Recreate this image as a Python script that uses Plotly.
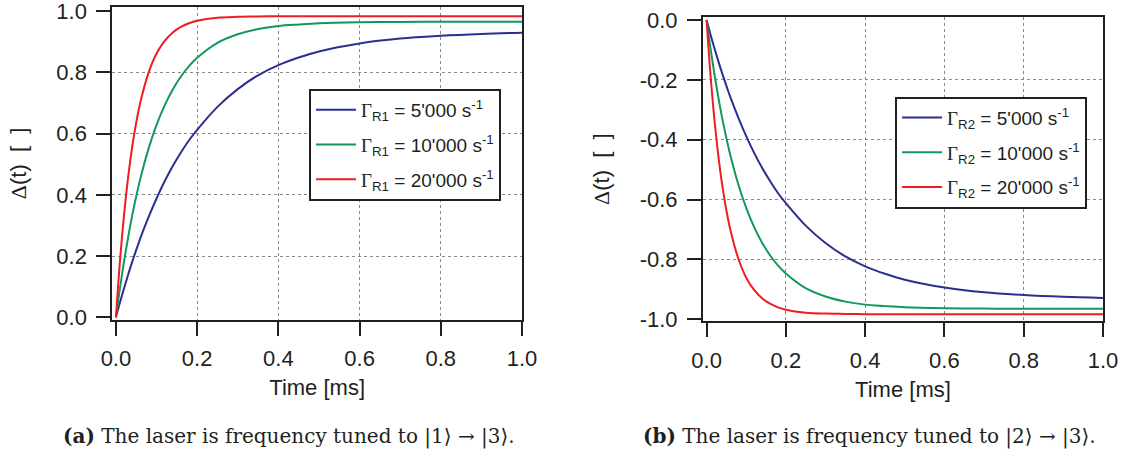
import plotly.graph_objects as go

# ---- data ----
time_ms = [0, 0.01, 0.02, 0.03, 0.04, 0.05, 0.06, 0.08, 0.10, 0.12, 0.14, 0.16, 0.18,
           0.20, 0.25, 0.30, 0.35, 0.40, 0.45, 0.50, 0.60, 0.70, 0.80, 0.90, 1.00]

a_5000 = [0, 0.049, 0.095, 0.139, 0.181, 0.220, 0.258, 0.326, 0.388, 0.444, 0.494, 0.538,
          0.578, 0.612, 0.687, 0.745, 0.790, 0.823, 0.848, 0.868, 0.894, 0.910, 0.919,
          0.925, 0.929]
a_10000 = [0, 0.096, 0.183, 0.261, 0.332, 0.395, 0.452, 0.549, 0.628, 0.692, 0.744, 0.786,
           0.820, 0.847, 0.896, 0.924, 0.941, 0.951, 0.956, 0.960, 0.963, 0.964, 0.965,
           0.965, 0.965]
a_20000 = [0, 0.185, 0.335, 0.457, 0.556, 0.636, 0.701, 0.797, 0.861, 0.902, 0.930, 0.948,
           0.960, 0.968, 0.978, 0.981, 0.982, 0.983, 0.983, 0.983, 0.983, 0.983, 0.983,
           0.983, 0.983]

b_5000 = [0, -0.049, -0.095, -0.139, -0.181, -0.220, -0.258, -0.326, -0.388, -0.444, -0.494,
          -0.538, -0.578, -0.612, -0.687, -0.745, -0.790, -0.823, -0.848, -0.868, -0.894,
          -0.910, -0.919, -0.925, -0.929]
b_10000 = [0, -0.096, -0.183, -0.261, -0.332, -0.395, -0.452, -0.549, -0.628, -0.692, -0.744,
           -0.786, -0.820, -0.847, -0.896, -0.924, -0.941, -0.951, -0.956, -0.960, -0.963,
           -0.964, -0.965, -0.965, -0.965]
b_20000 = [0, -0.185, -0.335, -0.457, -0.556, -0.636, -0.701, -0.797, -0.861, -0.902, -0.930,
           -0.948, -0.960, -0.968, -0.978, -0.981, -0.982, -0.983, -0.983, -0.983, -0.983,
           -0.983, -0.983, -0.983, -0.983]

rates = ["5'000", "10'000", "20'000"]
tick_x = [0.0, 0.2, 0.4, 0.6, 0.8, 1.0]
tick_x_text = ["0.0", "0.2", "0.4", "0.6", "0.8", "1.0"]
tick_ya = [0.0, 0.2, 0.4, 0.6, 0.8, 1.0]
tick_ya_text = ["0.0", "0.2", "0.4", "0.6", "0.8", "1.0"]
tick_yb = [0.0, -0.2, -0.4, -0.6, -0.8, -1.0]
tick_yb_text = ["0.0", "-0.2", "-0.4", "-0.6", "-0.8", "-1.0"]
grid_x = [0.2, 0.4, 0.6, 0.8]
grid_ya = [0.2, 0.4, 0.6, 0.8]
grid_yb = [-0.2, -0.4, -0.6, -0.8]

colors = ["#2b2f8f", "#13985a", "#ee1d23"]
SANS = "Liberation Sans, Arial, sans-serif"
SERIF = "Liberation Serif, Times New Roman, serif"
CAPFONT = "DejaVu Serif, serif"
INK = "#231f20"
NB = "\u00a0"

fig = go.Figure()

for i, (ys, r) in enumerate(zip([a_5000, a_10000, a_20000], rates)):
    fig.add_trace(go.Scatter(
        x=time_ms, y=ys, mode="lines", line=dict(color=colors[i], width=2, shape="spline"),
        name=f"<span style='font-family:{SERIF}'>Γ</span><sub>R1</sub> = {r} s<sup>-1</sup>",
        xaxis="x", yaxis="y", legend="legend", legendgroup=f"a{i}"))
for i, (ys, r) in enumerate(zip([b_5000, b_10000, b_20000], rates)):
    fig.add_trace(go.Scatter(
        x=time_ms, y=ys, mode="lines", line=dict(color=colors[i], width=2, shape="spline"),
        name=f"<span style='font-family:{SERIF}'>Γ</span><sub>R2</sub> = {r} s<sup>-1</sup>",
        xaxis="x2", yaxis="y2", legend="legend2", legendgroup=f"b{i}"))

def xax(domain, anchor):
    return dict(domain=domain, anchor=anchor, range=[-0.009, 1.0], automargin=False,
                tickmode="array", tickvals=tick_x, ticktext=tick_x_text,
                ticks="outside", ticklen=14, tickwidth=2, tickcolor=INK,
                ticklabelstandoff=4, ticklabeloverflow="allow",
                showline=True, linewidth=2, linecolor=INK, mirror=True,
                showgrid=False, zeroline=False,
                minor=dict(tickmode="array", tickvals=grid_x, showgrid=True,
                           gridcolor="#8a8a8a", griddash="dot", gridwidth=1, ticks=""),
                tickfont=dict(family=SANS, size=22, color=INK),
                title=dict(text="Time [ms]", font=dict(family=SANS, size=22, color=INK),
                           standoff=10))

def yax(domain, anchor, rng, tv, tt, gv):
    return dict(domain=domain, anchor=anchor, range=rng, automargin=False,
                tickmode="array", tickvals=tv, ticktext=tt,
                ticks="outside", ticklen=14, tickwidth=2, tickcolor=INK,
                ticklabelstandoff=5, ticklabeloverflow="allow",
                showline=True, linewidth=2, linecolor=INK, mirror=True,
                showgrid=False, zeroline=False,
                minor=dict(tickmode="array", tickvals=gv, showgrid=True,
                           gridcolor="#8a8a8a", griddash="dot", gridwidth=1, ticks=""),
                tickfont=dict(family=SANS, size=22, color=INK),
                title=dict(text=f"<span style='font-family:{SERIF}'>Δ</span>(t){NB}{NB}[{NB}{NB}]",
                           font=dict(family=SANS, size=22, color=INK), standoff=24))

legend_common = dict(bgcolor="white", bordercolor=INK, borderwidth=2,
                     font=dict(family=SANS, size=19, color=INK),
                     xanchor="left", yanchor="top", tracegroupgap=7, itemwidth=40)

fig.update_layout(
    width=1125, height=450,
    margin=dict(l=0, r=0, t=0, b=0, autoexpand=False),
    paper_bgcolor="white", plot_bgcolor="white",
    xaxis=xax([0.0998, 0.464], "y"),
    yaxis=yax([0.29, 0.9838], "x", [-0.007, 1.012], tick_ya, tick_ya_text, grid_ya),
    xaxis2=xax([0.6249, 0.9804], "y2"),
    yaxis2=yax([0.2856, 0.9629], "x2", [-1.0073, 0.011], tick_yb, tick_yb_text, grid_yb),
    legend=dict(x=0.2747, y=0.8022, **legend_common),
    legend2=dict(x=0.7956, y=0.7851, **legend_common),
    showlegend=True,
    annotations=[
        dict(text="<b>(a)</b> The laser is frequency tuned to |1⟩ → |3⟩.",
             x=289 / 1125, y=1 - 436 / 450, xref="paper", yref="paper",
             xanchor="center", yanchor="middle", showarrow=False,
             font=dict(family=CAPFONT, size=20, color=INK)),
        dict(text="<b>(b)</b> The laser is frequency tuned to |2⟩ → |3⟩.",
             x=869 / 1125, y=1 - 436 / 450, xref="paper", yref="paper",
             xanchor="center", yanchor="middle", showarrow=False,
             font=dict(family=CAPFONT, size=20, color=INK)),
    ],
)

fig.write_html("out.html")
